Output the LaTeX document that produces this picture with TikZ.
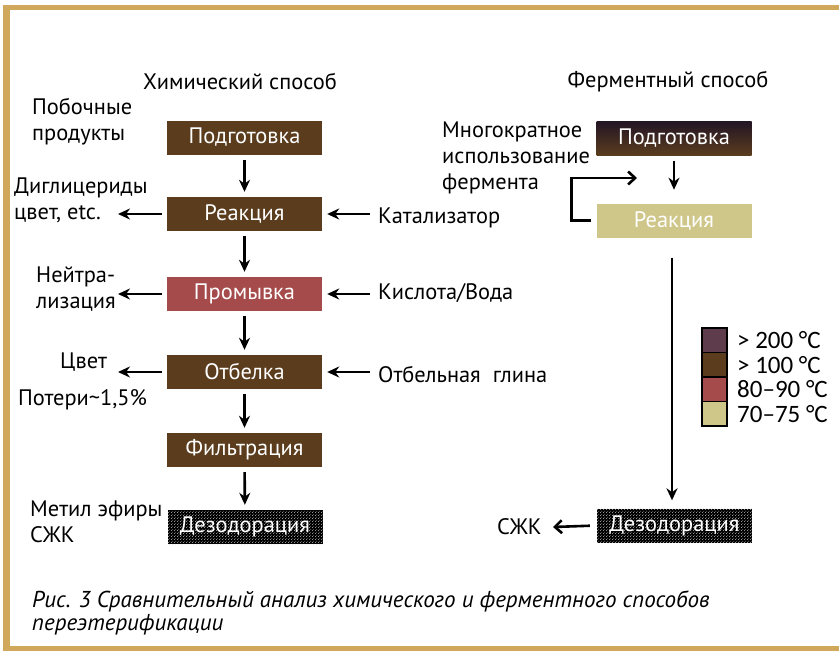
\documentclass[tikz,border=0pt]{standalone}
\usepackage{fontspec}
\setmainfont{PT Sans}
\newfontfamily\legfont{Carlito}
\usetikzlibrary{arrows.meta,patterns}
\definecolor{framec}{HTML}{CFA85C}
\definecolor{brownbox}{HTML}{5B3D1E}
\definecolor{redbox}{HTML}{A64B4B}
\definecolor{khaki}{HTML}{CFC68A}
\definecolor{purp}{HTML}{5E3C4C}
\definecolor{darkpurp}{HTML}{231524}
\pgfdeclarepatternformonly{stipple}{\pgfqpoint{0pt}{0pt}}{\pgfqpoint{3pt}{3pt}}{\pgfqpoint{3pt}{3pt}}{%
  \pgfpathcircle{\pgfqpoint{0.75pt}{0.75pt}}{0.55pt}%
  \pgfpathcircle{\pgfqpoint{2.25pt}{2.25pt}}{0.55pt}%
  \pgfusepath{fill}}
\begin{document}
\begin{tikzpicture}[x=1pt,y=-1pt,
  proc/.style={minimum width=155pt,minimum height=34pt,inner sep=0pt,text=white,
    font=\fontsize{22.4}{22.4}\selectfont},
  lbl/.style={font=\fontsize{22.4}{26}\selectfont,align=left,inner sep=0pt,anchor=west},
  arr/.style={-{Stealth[length=12pt,width=11pt]},line width=2.6pt},
  oarr/.style={-{Straight Barb[length=7pt,width=13pt]},line width=2.6pt},
  leg/.style={draw=black,line width=1.6pt,minimum width=25pt,minimum height=24.5pt,inner sep=0pt},
  legt/.style={font=\legfont\fontsize{25}{25}\selectfont,anchor=west,inner sep=0pt}]
\useasboundingbox (0,0) rectangle (839,651);
\fill[white] (0,0) rectangle (839,651);
% frame
\fill[framec] (3,5) rectangle (839,10);
\fill[framec] (3,5) rectangle (10,651);
\fill[framec] (3,646) rectangle (839,651);

% titles
\node[font=\fontsize{22.4}{22.4}\selectfont] (t1) at (240,82) {Химический способ};
\node[font=\fontsize{22.4}{22.4}\selectfont] (t2) at (668,82) {Ферментный способ};

% left column
\node[proc,fill=brownbox] (L1) at (244.5,137.5) {Подготовка};
\node[proc,fill=brownbox] (L2) at (244.5,214) {Реакция};
\node[proc,fill=redbox] (L3) at (244.5,294) {Промывка};
\node[proc,fill=brownbox] (L4) at (244.5,372) {Отбелка};
\node[proc,fill=brownbox] (L5) at (244.5,450) {Фильтрация};
\node[proc,preaction={fill=black},pattern=stipple,pattern color=white!80!black] (L6) at (245,527) {};
\node[text=white,font=\fontsize{22.4}{22.4}\selectfont] (L6t) at (L6) {Дезодорация};

\foreach \a/\b in {L1/L2,L2/L3,L3/L4,L4/L5,L5/L6}
  \draw[arr,shorten <=5pt,shorten >=5pt] (\a) -- (\b);

% left labels
\node[lbl] (pb) at (32,122) {Побочные\\продукты};
\node[lbl] (dg) at (14,200) {Диглицериды\\цвет, etc.};
\node[lbl] (nt) at (36,289) {Нейтра-\\лизация};
\node[lbl] (cv) at (60,362) {Цвет};
\node[lbl] (pt) at (18,400) {Потери\textasciitilde1,5\%};
\node[lbl] (me) at (30,522) {Метил эфиры\\СЖК};

\coordinate (o2) at (118,214);
\coordinate (o3) at (118,294);
\coordinate (o4) at (118,372);
\draw[arr,shorten <=5pt] (L2.west) -- (o2);
\draw[arr,shorten <=5pt] (L3.west) -- (o3);
\draw[arr,shorten <=5pt] (L4.west) -- (o4);

% right labels
\node[lbl] (kt) at (378,218) {Катализатор};
\node[lbl] (kv) at (378,293) {Кислота/Вода};
\node[lbl] (og) at (378,375) {Отбельная\ \ глина};
\coordinate (i2) at (370,214);
\coordinate (i3) at (370,294);
\coordinate (i4) at (370,372);
\draw[arr,shorten >=5pt] (i2) -- (L2.east);
\draw[arr,shorten >=5pt] (i3) -- (L3.east);
\draw[arr,shorten >=5pt] (i4) -- (L4.east);

% right column
\node[proc,top color=darkpurp,bottom color=brownbox] (R1) at (674,138.5) {Подготовка};
\node[proc,fill=khaki] (R2) at (674,220.5) {Реакция};
\node[proc,preaction={fill=black},pattern=stipple,pattern color=white!80!black] (R3) at (674.5,525.5) {};
\node[text=white,font=\fontsize{22.4}{22.4}\selectfont] (R3t) at (R3) {Дезодорация};

\draw[arr,shorten <=5pt] (R1.south) -- ++(0,34) coordinate (r1e);
\coordinate (loopend) at (637,178);
\draw[oarr,shorten <=5pt] (R2.west) -- ++(-25,0) |- (loopend);
\draw[arr,shorten <=20pt,shorten >=8pt] (R2.south -| 672,0) -- (R3.north -| 672,0);

\node[lbl] (mf) at (442,158) {Многократное\\использование\\фермента};
\node[lbl] (sz) at (497,527) {СЖК};
\coordinate (szarr) at (553,527);
\draw[oarr,shorten <=7pt] (R3.west) -- (szarr);

% legend
\node[leg,fill=purp] (g1) at (714.5,340.25) {};
\node[leg,fill=brownbox] (g2) at (714.5,364.75) {};
\node[leg,fill=redbox] (g3) at (714.5,389.25) {};
\node[leg,fill=khaki] (g4) at (714.5,413.75) {};
\node[legt] at (737,340.25) {> 200 °C};
\node[legt] at (737,364.75) {> 100 °C};
\node[legt] at (737,389.25) {80–90 °C};
\node[legt] at (737,413.75) {70–75 °C};

% caption
\node[lbl,font=\itshape\fontsize{23}{23}\selectfont] (c1) at (32,601) {Рис. 3 Сравнительный анализ химического и ферментного способов};
\node[lbl,font=\itshape\fontsize{23}{23}\selectfont] (c2) at (32,625) {переэтерификации};
\end{tikzpicture}
\end{document}
